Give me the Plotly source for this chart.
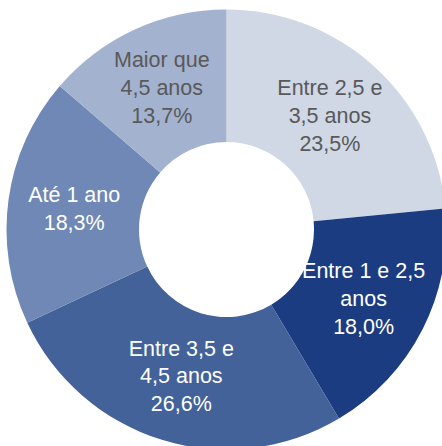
import plotly.graph_objects as go

labels = ["Entre 2,5 e 3,5 anos", "Entre 1 e 2,5 anos", "Entre 3,5 e 4,5 anos", "Até 1 ano", "Maior que 4,5 anos"]
text_labels = ["Entre 2,5 e<br>3,5 anos", "Entre 1 e 2,5<br>anos", "Entre 3,5 e<br>4,5 anos", "Até 1 ano", "Maior que<br>4,5 anos"]
values = [23.5, 18.0, 26.6, 18.3, 13.7]
colors = ["#D0D7E5", "#1B3C81", "#44629A", "#6F88B5", "#A3B2CF"]
text_colors = ["#595959", "#FFFFFF", "#FFFFFF", "#FFFFFF", "#595959"]

texts = [f"{t}<br>{str(v).replace('.', ',')}%" for t, v in zip(text_labels, values)]

W, H = 447, 450
fig = go.Figure(go.Pie(
    labels=labels,
    values=values,
    text=texts,
    textinfo="text",
    hole=87.5 / 220,
    sort=False,
    direction="clockwise",
    rotation=0,
    marker=dict(colors=colors, line=dict(width=0)),
    textposition="inside",
    insidetextorientation="horizontal",
    textfont=dict(family="Liberation Sans, Arial, sans-serif", size=21.5, color=text_colors),
    domain=dict(x=[6.5 / W, 446.5 / W], y=[0.5 / H, 440.5 / H]),
    showlegend=False,
))
fig.update_layout(
    width=W, height=H,
    margin=dict(l=0, r=0, t=0, b=0),
    paper_bgcolor="white",
    plot_bgcolor="white",
    uniformtext=dict(minsize=21.5, mode="show"),
)
fig.write_html(
    "out.html",
    config={"displayModeBar": False},
    post_script="document.body.style.margin='0';document.body.style.overflow='hidden';",
)
